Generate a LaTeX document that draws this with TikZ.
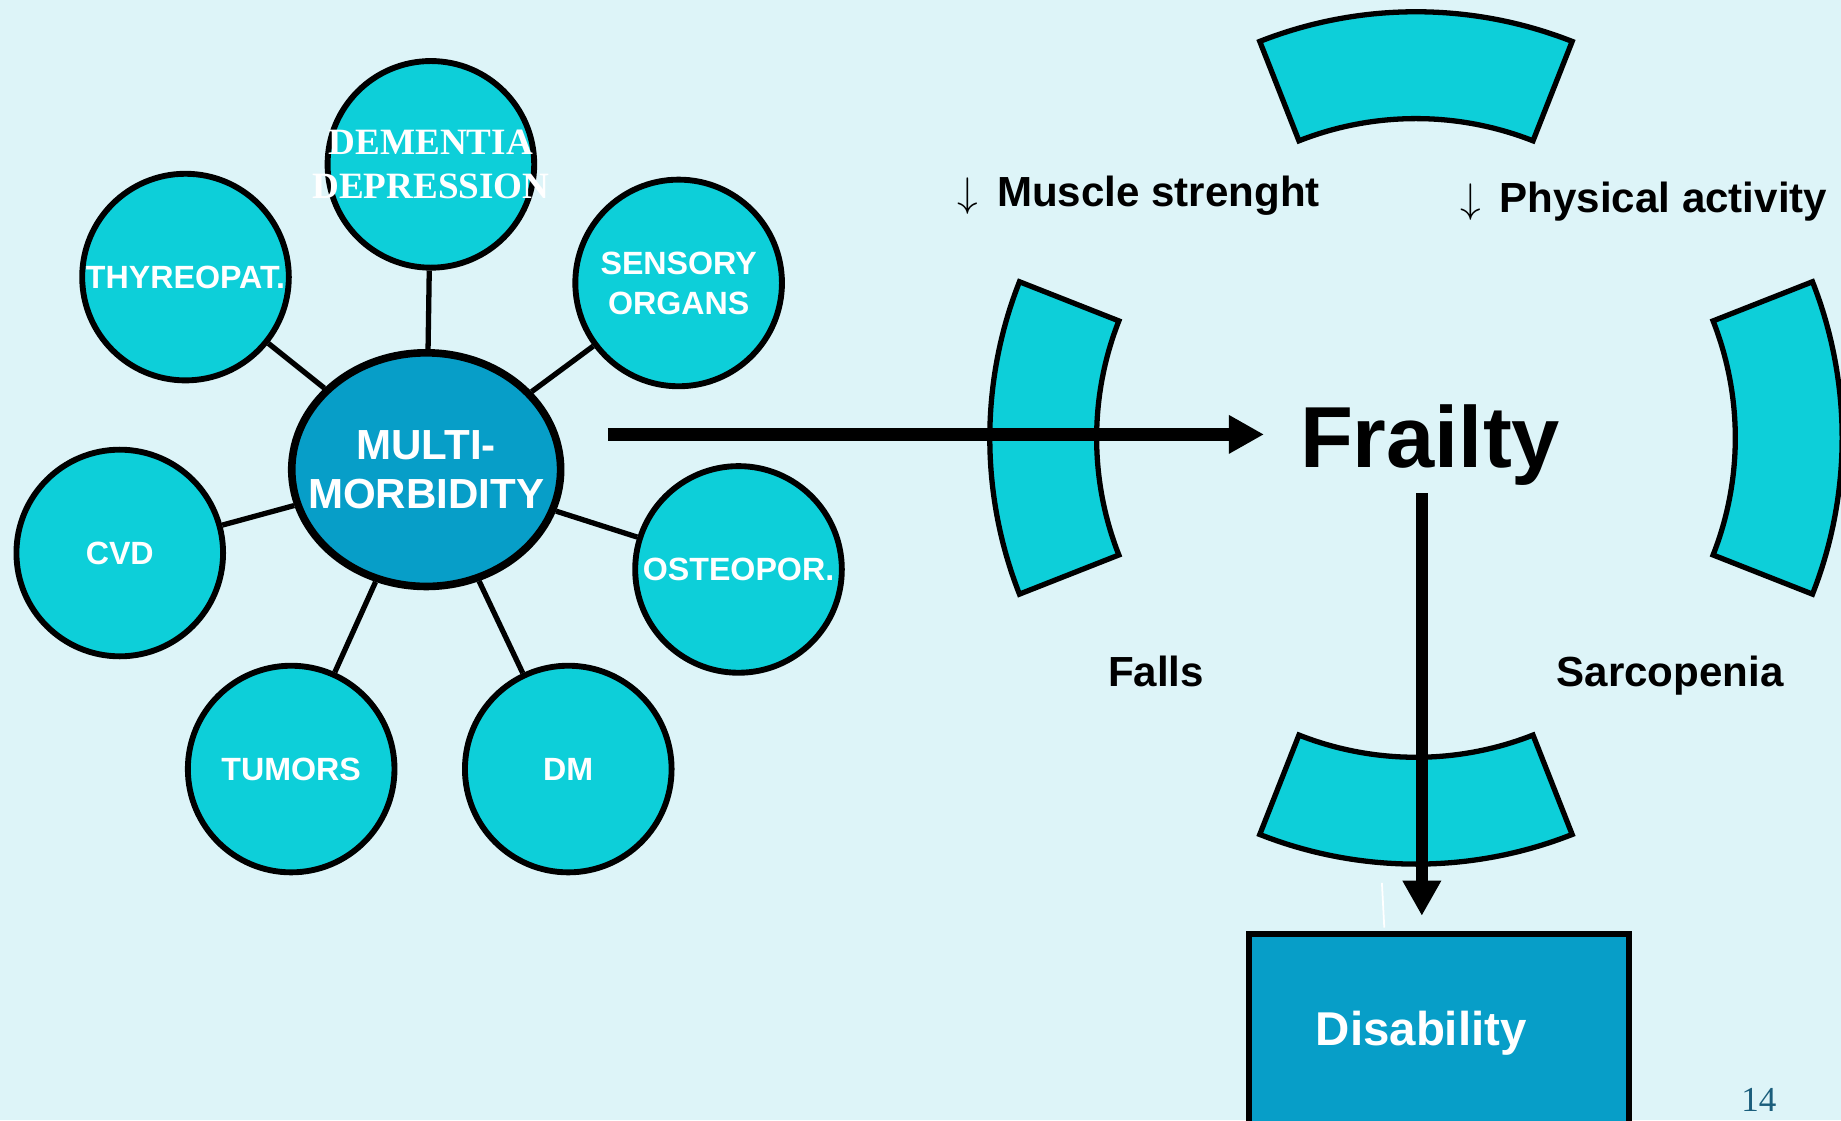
\documentclass[tikz,border=0pt]{standalone}
\usepackage{fontspec}
\setmainfont{Liberation Sans}
\newfontfamily\seriffont{Liberation Serif}
\usetikzlibrary{arrows.meta,shapes.geometric,calc}
\definecolor{bgcyan}{HTML}{DDF4F8}
\definecolor{ballcyan}{HTML}{0DCFD9}
\definecolor{deepcyan}{HTML}{079EC8}
\definecolor{pagenum}{HTML}{1B5E7C}

\begin{document}
\begin{tikzpicture}[
				x=0.1mm, y=0.1mm,
				ball/.style = {circle, draw, line width=0.5mm, fill=ballcyan, minimum size=17.6mm, inner sep=0pt,
						text=white, align=center, font=\fontsize{7.8}{9.7}\selectfont\bfseries},
				link/.style = {line width=0.45mm},
				band/.style = {draw, line width=0.45mm, fill=ballcyan},
				bigarrow/.style = {line width=1.05mm, -{Triangle[length=3mm,width=3.1mm]}},
				caption/.style = {anchor=base west, inner sep=0pt, font=\fontsize{10.2}{12}\selectfont\bfseries},
			]
			\fill[bgcyan] (0,0) rectangle (1568,954);
			\path[use as bounding box] (0,0) rectangle (1568,954);
			% the comorbidities round the centre
			\node[ball, font=\fontsize{9}{10.8}\selectfont\seriffont\bfseries] (dem) at (367,814) {\makebox[0pt]{DEMENTIA}\\\makebox[0pt]{DEPRESSION}};
			\node[ball] (thy) at (158,718) {\makebox[0pt]{THYREOPAT.}};
			\node[ball] (sen) at (578,713) {SENSORY\\ORGANS};
			\node[ball] (cvd) at (102,483) {CVD};
			\node[ball] (ost) at (629,469) {OSTEOPOR.};
			\node[ball] (tum) at (248,299) {TUMORS};
			\node[ball] (dm) at (484,299) {DM};
			\node[ellipse, draw, line width=0.65mm, fill=deepcyan, minimum width=22.9mm, minimum height=19.9mm, inner sep=0pt,
				text=white, align=center, font=\fontsize{10.2}{12}\selectfont\bfseries] (multi) at (363,554) {\makebox[0pt]{MULTI-}\\\makebox[0pt]{MORBIDITY}};
			\foreach \c in {dem,thy,sen,cvd,ost,tum,dm}
				\draw[link] (\c) -- (multi);
			% ring of four bands round frailty
			\coordinate (hub) at (1206,581);
			\foreach \a in {0,90,180,270}
				\draw[band] ($(hub)+(\a-21.5:36.3mm)$) arc[start angle=\a-21.5, end angle=\a+21.5, radius=36.3mm]
					-- ($(hub)+(\a+21.5:27.2mm)$) arc[start angle=\a+21.5, end angle=\a-21.5, radius=27.2mm] -- cycle;
			\node[caption] (muscle) at (815,778) {$\downarrow$\hspace{0.6mm} Muscle strenght};
			\node[caption] (physical) at (1243,773) {$\downarrow$\hspace{0.6mm} Physical activity};
			\node[caption] (falls) at (943,369) {Falls};
			\node[caption] (sarco) at (1325,369) {Sarcopenia};
			\node[anchor=base, inner xsep=3mm, inner ysep=0.6mm, font=\fontsize{21}{25}\selectfont\bfseries] (frailty) at (1218,556) {Frailty};
			\node[draw, line width=0.5mm, fill=deepcyan, anchor=north, minimum width=32.4mm, inner sep=0pt, text height=9.5mm, text depth=10mm,
				text=white, font=\fontsize{11.5}{14}\selectfont\bfseries] (disab) at (1225.5,161) {Disability\kern3mm};
			% arrows
			\coordinate (start) at ([shift={(3.7mm,3mm)}]multi.east);
			\draw[bigarrow] (start) -- (start -| frailty.west);
			\coordinate (drop) at ([xshift=-0.7mm]frailty.south);
			\draw[bigarrow, shorten >=1.3mm] (drop) -- (drop |- disab.north);
			\draw[white, line width=0.15mm] (1177,202) -- (1179,164);
			\node[text=pagenum, font=\fontsize{8.5}{10}\selectfont\seriffont] (page) at (1498,17) {14};
		\end{tikzpicture}
\end{document}
